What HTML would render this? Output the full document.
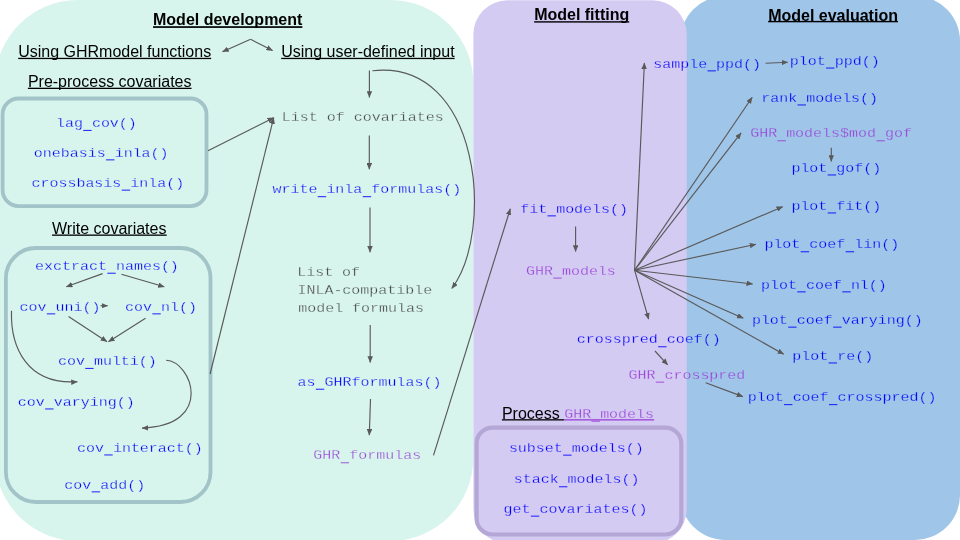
<!DOCTYPE html><html><head><meta charset="utf-8"><style>html,body{margin:0;padding:0;background:#fff;width:960px;height:540px;overflow:hidden}svg{display:block;will-change:transform}.m{font-family:"Liberation Mono",monospace;font-size:15px}.s{font-family:"Liberation Sans",sans-serif;font-size:16px}.b{font-weight:bold}</style></head><body>
<svg width="960" height="540" viewBox="0 0 960 540">
<defs><marker id="ah" viewBox="0 0 13 11" refX="12.4" refY="5.5" markerWidth="6.5" markerHeight="5.5" markerUnits="userSpaceOnUse" orient="auto"><path d="M0,0 L13,5.5 L0,11 z" fill="#595959"/></marker></defs>
<rect x="-5" y="0" width="478.3" height="541" rx="83" fill="#d7f5ec"/>
<rect x="680.3" y="-4" width="279.7" height="544" rx="45" fill="#9fc5e8"/>
<rect x="473.4" y="0.3" width="213.3" height="543" rx="34" fill="#d4cbf3"/>
<rect x="2.6" y="98.5" width="203.9" height="107.6" rx="16" fill="none" stroke="#a2c4c9" stroke-width="3.8"/>
<rect x="5.9" y="248" width="204.6" height="254" rx="30" fill="none" stroke="#a2c4c9" stroke-width="3.8"/>
<rect x="476.6" y="427.6" width="204.7" height="106.9" rx="16" fill="none" stroke="#b4a7d6" stroke-width="4.2"/>
<path d="M250.6,39.3 L222.5,51.7" fill="none" stroke="#595959" stroke-width="1.15" marker-end="url(#ah)"/>
<path d="M250.6,39.3 L272.6,50.5" fill="none" stroke="#595959" stroke-width="1.15" marker-end="url(#ah)"/>
<path d="M369.4,70.5 L369.4,97.4" fill="none" stroke="#595959" stroke-width="1.15" marker-end="url(#ah)"/>
<path d="M369.3,135.6 L369.3,169.3" fill="none" stroke="#595959" stroke-width="1.15" marker-end="url(#ah)"/>
<path d="M370,207.4 L370,252.2" fill="none" stroke="#595959" stroke-width="1.15" marker-end="url(#ah)"/>
<path d="M370.2,325.1 L370.2,362.5" fill="none" stroke="#595959" stroke-width="1.15" marker-end="url(#ah)"/>
<path d="M370.5,399 L369.3,435.2" fill="none" stroke="#595959" stroke-width="1.15" marker-end="url(#ah)"/>
<path d="M208,150.7 L273.7,117.7" fill="none" stroke="#595959" stroke-width="1.15" marker-end="url(#ah)"/>
<path d="M210.1,374 L273.7,117.7" fill="none" stroke="#595959" stroke-width="1.15" marker-end="url(#ah)"/>
<path d="M433.5,455.4 L510.3,208.75" fill="none" stroke="#595959" stroke-width="1.15" marker-end="url(#ah)"/>
<path d="M575.6,226.6 L575.6,251.5" fill="none" stroke="#595959" stroke-width="1.15" marker-end="url(#ah)"/>
<path d="M634.6,270.2 L644.4,62.9" fill="none" stroke="#595959" stroke-width="1.15" marker-end="url(#ah)"/>
<path d="M634.6,270.2 L752.2,97.3" fill="none" stroke="#595959" stroke-width="1.15" marker-end="url(#ah)"/>
<path d="M634.6,270.2 L741.1,132.9" fill="none" stroke="#595959" stroke-width="1.15" marker-end="url(#ah)"/>
<path d="M634.6,270.2 L782.7,206.7" fill="none" stroke="#595959" stroke-width="1.15" marker-end="url(#ah)"/>
<path d="M634.6,270.2 L756,244.3" fill="none" stroke="#595959" stroke-width="1.15" marker-end="url(#ah)"/>
<path d="M634.6,270.2 L752.7,284" fill="none" stroke="#595959" stroke-width="1.15" marker-end="url(#ah)"/>
<path d="M634.6,270.2 L743.3,318.2" fill="none" stroke="#595959" stroke-width="1.15" marker-end="url(#ah)"/>
<path d="M634.6,270.2 L783.7,354.2" fill="none" stroke="#595959" stroke-width="1.15" marker-end="url(#ah)"/>
<path d="M634.6,270.2 L648.6,319.2" fill="none" stroke="#595959" stroke-width="1.15" marker-end="url(#ah)"/>
<path d="M765.6,63.3 L787.8,62.2" fill="none" stroke="#595959" stroke-width="1.15" marker-end="url(#ah)"/>
<path d="M831.3,147.7 L831.3,161.4" fill="none" stroke="#595959" stroke-width="1.15" marker-end="url(#ah)"/>
<path d="M655,351 L667.7,364.9" fill="none" stroke="#595959" stroke-width="1.15" marker-end="url(#ah)"/>
<path d="M705.7,382.7 L742.9,396.6" fill="none" stroke="#595959" stroke-width="1.15" marker-end="url(#ah)"/>
<path d="M102.6,273.6 L66.3,286.8" fill="none" stroke="#595959" stroke-width="1.15" marker-end="url(#ah)"/>
<path d="M121.4,274.2 L164.3,286.8" fill="none" stroke="#595959" stroke-width="1.15" marker-end="url(#ah)"/>
<path d="M100.5,305.7 L107.7,305.7" fill="none" stroke="#595959" stroke-width="1.15" marker-end="url(#ah)"/>
<path d="M68.5,316.4 L107,341.7" fill="none" stroke="#595959" stroke-width="1.15" marker-end="url(#ah)"/>
<path d="M145.5,318.3 L108.5,341.7" fill="none" stroke="#595959" stroke-width="1.15" marker-end="url(#ah)"/>
<path d="M11.5,310.7 C10.3,347.6 27.5,385.2 77.4,381.7" fill="none" stroke="#595959" stroke-width="1.15" marker-end="url(#ah)"/>
<path d="M166.1,360.3 C191.5,361.3 215.5,425.5 142,428.1" fill="none" stroke="#595959" stroke-width="1.15" marker-end="url(#ah)"/>
<path d="M372.4,70.8 C480.7,58.7 494.9,231.6 451.8,288.4" fill="none" stroke="#595959" stroke-width="1.15" marker-end="url(#ah)"/>
<clipPath id="cpL"><rect x="0" y="0" width="686.7" height="540"/></clipPath><clipPath id="cpR"><rect x="686.7" y="0" width="300" height="540"/></clipPath>
<rect x="83.24" y="129.90" width="8.40" height="1.1" fill="#0000ff" opacity="0.8"/>
<text class="m" transform="translate(55.94,127.1) scale(1,0.88)" fill="#0000ff" stroke="#d7f5ec" stroke-width="0.3" xml:space="preserve">lag cov()</text>
<rect x="106.05" y="159.30" width="8.40" height="1.1" fill="#0000ff" opacity="0.8"/>
<text class="m" transform="translate(33.75,156.5) scale(1,0.88)" fill="#0000ff" stroke="#d7f5ec" stroke-width="0.3" xml:space="preserve">onebasis inla()</text>
<rect x="121.75" y="189.60" width="8.40" height="1.1" fill="#0000ff" opacity="0.8"/>
<text class="m" transform="translate(31.45,186.8) scale(1,0.88)" fill="#0000ff" stroke="#d7f5ec" stroke-width="0.3" xml:space="preserve">crossbasis inla()</text>
<rect x="107.33" y="272.70" width="8.40" height="1.1" fill="#0000ff" opacity="0.8"/>
<text class="m" transform="translate(35.03,269.9) scale(1,0.88)" fill="#0000ff" stroke="#d7f5ec" stroke-width="0.3" xml:space="preserve">exctract names()</text>
<rect x="46.85" y="313.30" width="8.40" height="1.1" fill="#0000ff" opacity="0.8"/>
<text class="m" transform="translate(19.55,310.5) scale(1,0.88)" fill="#0000ff" stroke="#d7f5ec" stroke-width="0.3" xml:space="preserve">cov uni()</text>
<rect x="152.35" y="313.30" width="8.40" height="1.1" fill="#0000ff" opacity="0.8"/>
<text class="m" transform="translate(125.05,310.5) scale(1,0.88)" fill="#0000ff" stroke="#d7f5ec" stroke-width="0.3" xml:space="preserve">cov nl()</text>
<rect x="85.25" y="367.90" width="8.40" height="1.1" fill="#0000ff" opacity="0.8"/>
<text class="m" transform="translate(57.95,365.1) scale(1,0.88)" fill="#0000ff" stroke="#d7f5ec" stroke-width="0.3" xml:space="preserve">cov multi()</text>
<rect x="45.15" y="408.40" width="8.40" height="1.1" fill="#0000ff" opacity="0.8"/>
<text class="m" transform="translate(17.85,405.6) scale(1,0.88)" fill="#0000ff" stroke="#d7f5ec" stroke-width="0.3" xml:space="preserve">cov varying()</text>
<rect x="104.25" y="454.40" width="8.40" height="1.1" fill="#0000ff" opacity="0.8"/>
<text class="m" transform="translate(76.95,451.6) scale(1,0.88)" fill="#0000ff" stroke="#d7f5ec" stroke-width="0.3" xml:space="preserve">cov interact()</text>
<rect x="91.65" y="491.30" width="8.40" height="1.1" fill="#0000ff" opacity="0.8"/>
<text class="m" transform="translate(64.35,488.5) scale(1,0.88)" fill="#0000ff" stroke="#d7f5ec" stroke-width="0.3" xml:space="preserve">cov add()</text>
<rect x="317.75" y="196.10" width="8.40" height="1.1" fill="#0000ff" opacity="0.8"/>
<rect x="362.75" y="196.10" width="8.40" height="1.1" fill="#0000ff" opacity="0.8"/>
<text class="m" transform="translate(272.45,193.3) scale(1,0.88)" fill="#0000ff" stroke="#d7f5ec" stroke-width="0.3" xml:space="preserve">write inla formulas()</text>
<rect x="315.86" y="388.70" width="8.40" height="1.1" fill="#0000ff" opacity="0.8"/>
<text class="m" transform="translate(297.56,385.9) scale(1,0.88)" fill="#0000ff" stroke="#d7f5ec" stroke-width="0.3" xml:space="preserve">as GHRformulas()</text>
<rect x="547.49" y="215.30" width="8.40" height="1.1" fill="#0000ff" opacity="0.8"/>
<text class="m" transform="translate(520.19,212.5) scale(1,0.88)" fill="#0000ff" stroke="#d4cbf3" stroke-width="0.3" xml:space="preserve">fit models()</text>
<rect x="658.15" y="346.20" width="8.40" height="1.1" fill="#0000ff" opacity="0.8"/>
<g clip-path="url(#cpL)"><text class="m" transform="translate(576.85,343.4) scale(1,0.88)" fill="#0000ff" stroke="#d4cbf3" stroke-width="0.3" xml:space="preserve">crosspred coef()</text></g>
<g clip-path="url(#cpR)"><text class="m" transform="translate(576.85,343.4) scale(1,0.88)" fill="#0000ff" stroke="#9fc5e8" stroke-width="0.3" xml:space="preserve">crosspred coef()</text></g>
<rect x="563.18" y="454.60" width="8.40" height="1.1" fill="#0000ff" opacity="0.8"/>
<text class="m" transform="translate(508.88,451.8) scale(1,0.88)" fill="#0000ff" stroke="#d4cbf3" stroke-width="0.3" xml:space="preserve">subset models()</text>
<rect x="558.98" y="486.20" width="8.40" height="1.1" fill="#0000ff" opacity="0.8"/>
<text class="m" transform="translate(513.68,483.4) scale(1,0.88)" fill="#0000ff" stroke="#d4cbf3" stroke-width="0.3" xml:space="preserve">stack models()</text>
<rect x="530.85" y="515.60" width="8.40" height="1.1" fill="#0000ff" opacity="0.8"/>
<text class="m" transform="translate(503.55,512.8) scale(1,0.88)" fill="#0000ff" stroke="#d4cbf3" stroke-width="0.3" xml:space="preserve">get covariates()</text>
<rect x="707.48" y="70.30" width="8.40" height="1.1" fill="#0000ff" opacity="0.8"/>
<g clip-path="url(#cpL)"><text class="m" transform="translate(653.18,67.5) scale(1,0.88)" fill="#0000ff" stroke="#d4cbf3" stroke-width="0.3" xml:space="preserve">sample ppd()</text></g>
<g clip-path="url(#cpR)"><text class="m" transform="translate(653.18,67.5) scale(1,0.88)" fill="#0000ff" stroke="#9fc5e8" stroke-width="0.3" xml:space="preserve">sample ppd()</text></g>
<rect x="826.09" y="67.50" width="8.40" height="1.1" fill="#0000ff" opacity="0.8"/>
<text class="m" transform="translate(789.79,64.7) scale(1,0.88)" fill="#0000ff" stroke="#9fc5e8" stroke-width="0.3" xml:space="preserve">plot ppd()</text>
<rect x="797.53" y="104.40" width="8.40" height="1.1" fill="#0000ff" opacity="0.8"/>
<text class="m" transform="translate(761.23,101.6) scale(1,0.88)" fill="#0000ff" stroke="#9fc5e8" stroke-width="0.3" xml:space="preserve">rank models()</text>
<rect x="827.69" y="174.40" width="8.40" height="1.1" fill="#0000ff" opacity="0.8"/>
<text class="m" transform="translate(791.39,171.6) scale(1,0.88)" fill="#0000ff" stroke="#9fc5e8" stroke-width="0.3" xml:space="preserve">plot gof()</text>
<rect x="827.69" y="212.40" width="8.40" height="1.1" fill="#0000ff" opacity="0.8"/>
<text class="m" transform="translate(791.39,209.6) scale(1,0.88)" fill="#0000ff" stroke="#9fc5e8" stroke-width="0.3" xml:space="preserve">plot fit()</text>
<rect x="800.69" y="251.20" width="8.40" height="1.1" fill="#0000ff" opacity="0.8"/>
<rect x="845.69" y="251.20" width="8.40" height="1.1" fill="#0000ff" opacity="0.8"/>
<text class="m" transform="translate(764.39,248.4) scale(1,0.88)" fill="#0000ff" stroke="#9fc5e8" stroke-width="0.3" xml:space="preserve">plot coef lin()</text>
<rect x="797.29" y="291.30" width="8.40" height="1.1" fill="#0000ff" opacity="0.8"/>
<rect x="842.29" y="291.30" width="8.40" height="1.1" fill="#0000ff" opacity="0.8"/>
<text class="m" transform="translate(760.99,288.5) scale(1,0.88)" fill="#0000ff" stroke="#9fc5e8" stroke-width="0.3" xml:space="preserve">plot coef nl()</text>
<rect x="788.19" y="326.60" width="8.40" height="1.1" fill="#0000ff" opacity="0.8"/>
<rect x="833.19" y="326.60" width="8.40" height="1.1" fill="#0000ff" opacity="0.8"/>
<text class="m" transform="translate(751.89,323.8) scale(1,0.88)" fill="#0000ff" stroke="#9fc5e8" stroke-width="0.3" xml:space="preserve">plot coef varying()</text>
<rect x="828.59" y="362.40" width="8.40" height="1.1" fill="#0000ff" opacity="0.8"/>
<text class="m" transform="translate(792.29,359.6) scale(1,0.88)" fill="#0000ff" stroke="#9fc5e8" stroke-width="0.3" xml:space="preserve">plot re()</text>
<rect x="783.99" y="404.05" width="8.40" height="1.1" fill="#0000ff" opacity="0.8"/>
<rect x="828.99" y="404.05" width="8.40" height="1.1" fill="#0000ff" opacity="0.8"/>
<text class="m" transform="translate(747.69,401.25) scale(1,0.88)" fill="#0000ff" stroke="#9fc5e8" stroke-width="0.3" xml:space="preserve">plot coef crosspred()</text>
<rect x="340.67" y="462.20" width="8.40" height="1.1" fill="#9a40d8" opacity="0.8"/>
<text class="m" transform="translate(313.37,459.4) scale(1,0.88)" fill="#9a40d8" stroke="#d7f5ec" stroke-width="0.3" xml:space="preserve">GHR formulas</text>
<rect x="553.27" y="277.55" width="8.40" height="1.1" fill="#9a40d8" opacity="0.8"/>
<text class="m" transform="translate(525.97,274.75) scale(1,0.88)" fill="#9a40d8" stroke="#d4cbf3" stroke-width="0.3" xml:space="preserve">GHR models</text>
<rect x="655.77" y="381.60" width="8.40" height="1.1" fill="#9a40d8" opacity="0.8"/>
<g clip-path="url(#cpL)"><text class="m" transform="translate(628.47,378.8) scale(1,0.88)" fill="#9a40d8" stroke="#d4cbf3" stroke-width="0.3" xml:space="preserve">GHR crosspred</text></g>
<g clip-path="url(#cpR)"><text class="m" transform="translate(628.47,378.8) scale(1,0.88)" fill="#9a40d8" stroke="#9fc5e8" stroke-width="0.3" xml:space="preserve">GHR crosspred</text></g>
<rect x="777.47" y="140.20" width="8.40" height="1.1" fill="#9a40d8" opacity="0.8"/>
<rect x="876.47" y="140.20" width="8.40" height="1.1" fill="#9a40d8" opacity="0.8"/>
<text class="m" transform="translate(750.17,137.4) scale(1,0.88)" fill="#9a40d8" stroke="#9fc5e8" stroke-width="0.3" xml:space="preserve">GHR models&#36;mod gof</text>
<rect x="591.47" y="420.70" width="8.40" height="1.1" fill="#9a40d8" opacity="0.8"/>
<text class="m" transform="translate(564.17,417.9) scale(1,0.88)" fill="#9a40d8" stroke="#d4cbf3" stroke-width="0.3" xml:space="preserve">GHR models</text>
<text class="m" transform="translate(281.86,121.4) scale(1,0.88)" fill="#484848" stroke="#d7f5ec" stroke-width="0.3" xml:space="preserve">List of covariates</text>
<text class="m" transform="translate(297.16,276.0) scale(1,0.88)" fill="#484848" stroke="#d7f5ec" stroke-width="0.3" xml:space="preserve">List of</text>
<text class="m" transform="translate(297.42,293.8) scale(1,0.88)" fill="#484848" stroke="#d7f5ec" stroke-width="0.3" xml:space="preserve">INLA-compatible</text>
<text class="m" transform="translate(298.17,311.5) scale(1,0.88)" fill="#484848" stroke="#d7f5ec" stroke-width="0.3" xml:space="preserve">model formulas</text>
<text class="s b" x="153.03" y="25.35" fill="#000" xml:space="preserve">Model development</text>
<rect x="153.03" y="26.20" width="149.35" height="1.7" fill="#000"/>
<text class="s b" x="534.13" y="20.2" fill="#000" xml:space="preserve">Model fitting</text>
<rect x="534.13" y="21.20" width="95.09" height="1.4" fill="#000"/>
<text class="s b" x="768.13" y="20.5" fill="#000" xml:space="preserve">Model evaluation</text>
<rect x="768.13" y="20.90" width="129.80" height="1.4" fill="#000"/>
<text class="s" x="18.17" y="56.9" fill="#000" xml:space="preserve">Using GHRmodel functions</text>
<rect x="18.17" y="57.80" width="192.97" height="1.3" fill="#000"/>
<text class="s" x="281.17" y="57.4" fill="#000" xml:space="preserve">Using user-defined input</text>
<rect x="281.17" y="57.80" width="173.44" height="1.3" fill="#000"/>
<text class="s" x="27.89" y="86.6" fill="#000" xml:space="preserve">Pre-process covariates</text>
<rect x="27.89" y="87.70" width="163.62" height="1.3" fill="#000"/>
<text class="s" x="52.03" y="233.9" fill="#000" xml:space="preserve">Write covariates</text>
<rect x="52.03" y="234.50" width="114.70" height="1.3" fill="#000"/>
<text class="s" x="501.89" y="418.5" fill="#000" xml:space="preserve">Process </text>
<rect x="501.89" y="419.20" width="62.24" height="1.3" fill="#000"/>
<rect x="564.17" y="419.20" width="90.01" height="1.3" fill="#9a40d8"/>
</svg></body></html>
